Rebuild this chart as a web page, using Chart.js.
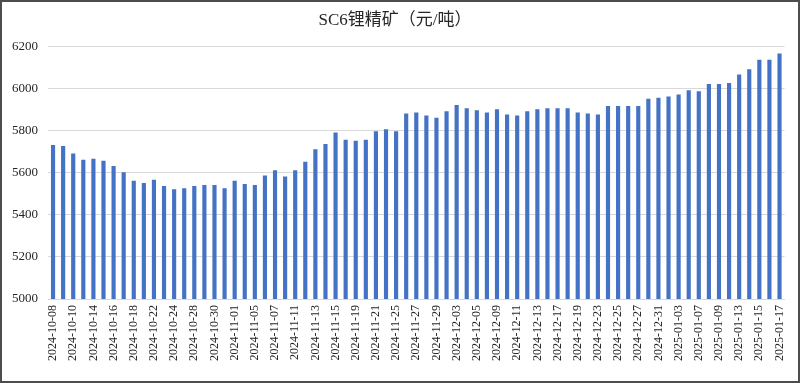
<!DOCTYPE html>
<html>
<head>
<meta charset="utf-8">
<script src="https://cdn.jsdelivr.net/npm/chart.js@4/dist/chart.umd.min.js"></script>
<style>
html,body{margin:0;padding:0;background:#fff;}
#wrap{width:800px;height:383px;position:relative;}
</style>
</head>
<body>
<div id="wrap"><canvas id="c" width="800" height="383"></canvas></div>
<script>
const dates = [
"2024-10-08","2024-10-09","2024-10-10","2024-10-11","2024-10-14","2024-10-15","2024-10-16","2024-10-17","2024-10-18",
"2024-10-21","2024-10-22","2024-10-23","2024-10-24","2024-10-25","2024-10-28","2024-10-29","2024-10-30","2024-10-31",
"2024-11-01","2024-11-04","2024-11-05","2024-11-06","2024-11-07","2024-11-08","2024-11-11","2024-11-12","2024-11-13",
"2024-11-14","2024-11-15","2024-11-18","2024-11-19","2024-11-20","2024-11-21","2024-11-22","2024-11-25","2024-11-26",
"2024-11-27","2024-11-28","2024-11-29","2024-12-02","2024-12-03","2024-12-04","2024-12-05","2024-12-06","2024-12-09",
"2024-12-10","2024-12-11","2024-12-12","2024-12-13","2024-12-16","2024-12-17","2024-12-18","2024-12-19","2024-12-20",
"2024-12-23","2024-12-24","2024-12-25","2024-12-26","2024-12-27","2024-12-30","2024-12-31","2025-01-02","2025-01-03",
"2025-01-06","2025-01-07","2025-01-08","2025-01-09","2025-01-10","2025-01-13","2025-01-14","2025-01-15","2025-01-16",
"2025-01-17"
];
const prices = [
5730,5725,5690,5660,5665,5655,5630,5600,5560,
5550,5565,5535,5520,5525,5535,5540,5540,5525,
5560,5545,5540,5585,5610,5580,5610,5650,5710,
5735,5790,5755,5750,5755,5795,5805,5795,5880,
5885,5870,5860,5890,5920,5905,5895,5885,5900,
5875,5870,5890,5900,5905,5905,5905,5885,5880,
5875,5915,5915,5915,5915,5950,5955,5960,5970,
5990,5985,6020,6020,6025,6065,6090,6135,6135,
6165
];
const yTicks = [5000,5200,5400,5600,5800,6000,6200];
const titleText = "SC6锂精矿（元/吨）";

const frame = {
  id:'frame',
  afterDraw(chart){
    const ctx = chart.ctx;
    ctx.save();
    ctx.strokeStyle = '#4d4d4d';
    ctx.lineWidth = 2;
    ctx.strokeRect(1,1,798,381);
    ctx.restore();
  }
};

const serif = "'Liberation Serif', 'Noto Sans CJK SC', serif";

function draw(){
  new Chart(document.getElementById('c'), {
    type:'bar',
    data:{
      labels:dates,
      datasets:[{
        data:prices,
        backgroundColor:'#4472C4',
        borderWidth:0,
        barThickness:3.5
      }]
    },
    options:{
      responsive:false,
      animation:false,
      devicePixelRatio:1,
      layout:{padding:{left:2,right:12,top:6,bottom:16}},
      plugins:{
        legend:{display:false},
        tooltip:{enabled:false},
        title:{
          display:true,
          text:titleText,
          color:'#262626',
          font:{family:serif,size:17,weight:'normal'},
          padding:{top:4,bottom:16}
        }
      },
      scales:{
        x:{
          offset:true,
          grid:{display:false,drawTicks:false},
          border:{display:true,color:'#d9d9d9'},
          ticks:{
            autoSkip:false,
            minRotation:90,maxRotation:90,
            color:'#262626',
            padding:6,
            font:{family:serif,size:12},
            callback:function(v,i){ return i%2===0 ? dates[i] : ''; }
          }
        },
        y:{
          min:5000,max:6200,
          afterBuildTicks(axis){ axis.ticks = yTicks.map(v=>({value:v})); },
          grid:{color:'#d9d9d9',drawTicks:false},
          border:{display:false},
          ticks:{
            color:'#262626',
            padding:10,
            font:{family:serif,size:13},
            callback:function(v){ return String(v); }
          }
        }
      }
    },
    plugins:[frame]
  });
}
Promise.all([
  document.fonts.load("12px 'Liberation Serif'"),
  document.fonts.load("17px 'Noto Sans CJK SC'", "锂精矿元吨")
]).then(draw, draw);
</script>
</body>
</html>
